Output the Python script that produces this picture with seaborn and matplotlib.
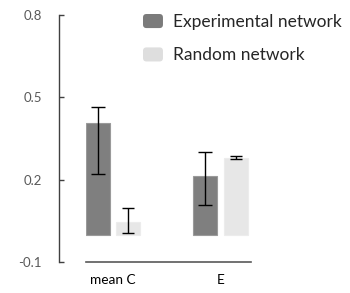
import matplotlib
matplotlib.use("Agg")
import matplotlib.pyplot as plt
import seaborn as sns
import pandas as pd
import numpy as np
from matplotlib.patches import FancyBboxPatch
from matplotlib.legend_handler import HandlerPatch
from matplotlib.patches import Patch

categories = ["mean C", "E"]
series = ["Experimental network", "Random network"]
exp_values = [0.406, 0.213]
rand_values = [0.045, 0.280]
exp_err_low = [0.184, 0.105]
exp_err_high = [0.059, 0.088]
rand_err_low = [0.038, 0.006]
rand_err_high = [0.052, 0.006]
yticks = [-0.1, 0.2, 0.5, 0.8]
ytick_labels = ["-0.1", "0.2", "0.5", "0.8"]

colors = {"Experimental network": "#7f7f7f", "Random network": "#e7e7e7"}
edgecolors = ["#9a9a9a", "#ececec"]

sns.set_style("white")
plt.rcParams["font.family"] = ["Lato", "DejaVu Sans"]

df = pd.DataFrame({
    "category": categories * 2,
    "series": [series[0]] * 2 + [series[1]] * 2,
    "value": exp_values + rand_values,
})

fig = plt.figure(figsize=(3.5, 2.93), dpi=100)
ax = fig.add_axes([86 / 350, 31 / 293, 165 / 350, 247 / 293])

sns.barplot(data=df, x="category", y="value", hue="series", order=categories,
            hue_order=series, palette=colors, width=0.57, gap=0.22,
            errorbar=None, ax=ax, legend=False, linewidth=0.8)

bar_containers = list(ax.containers)
for i, cont in enumerate(bar_containers):
    vals = exp_values if i == 0 else rand_values
    lo = exp_err_low if i == 0 else rand_err_low
    hi = exp_err_high if i == 0 else rand_err_high
    xs = []
    for p in cont.patches:
        p.set_edgecolor(edgecolors[i])
        xs.append(p.get_x() + p.get_width() / 2)
    ax.errorbar(xs, vals, yerr=[lo, hi], fmt="none", ecolor="black",
                elinewidth=1.0, capsize=5 if i == 0 else 4.5, capthick=1.0)

ax.set_xlim(-0.25, 1.28)
ax.set_ylim(-0.1, 0.8)
ax.set_yticks(yticks)
ax.set_yticklabels(ytick_labels)
ax.set_xlabel("")
ax.set_ylabel("")

for s in ["top", "right"]:
    ax.spines[s].set_visible(False)
ax.spines["left"].set_position(("outward", 19.7))
ax.spines["left"].set_color("#404040")
ax.spines["bottom"].set_color("#595959")
ax.spines["left"].set_linewidth(1.0)
ax.spines["bottom"].set_linewidth(1.2)

ax.tick_params(axis="y", direction="in", length=3.3, width=1.0, color="#404040",
               labelsize=9.5, labelcolor="#595959", pad=12, left=True)
ax.tick_params(axis="x", length=0, labelsize=9.8, labelcolor="#000000", pad=9)


class RoundHandler(HandlerPatch):
    def create_artists(self, legend, orig_handle, xdescent, ydescent, width,
                       height, fontsize, trans):
        p = FancyBboxPatch((-xdescent + 1.5, -ydescent + 1.5), width - 3, height - 3,
                           boxstyle="round,pad=1.5,rounding_size=2.5",
                           facecolor=orig_handle.get_facecolor(),
                           edgecolor="none", transform=trans)
        return [p]


handles = [Patch(facecolor="#7b7b7b"), Patch(facecolor="#dedede")]
leg = fig.legend(handles, series, loc="upper left",
                 bbox_to_anchor=(143 / 350, 1 - 14 / 293),
                 frameon=False, fontsize=12.5, handlelength=1.15, handleheight=0.87,
                 handletextpad=0.55, labelspacing=1.0, borderpad=0, borderaxespad=0,
                 handler_map={Patch: RoundHandler()})

fig.savefig("out.png", dpi=100)
